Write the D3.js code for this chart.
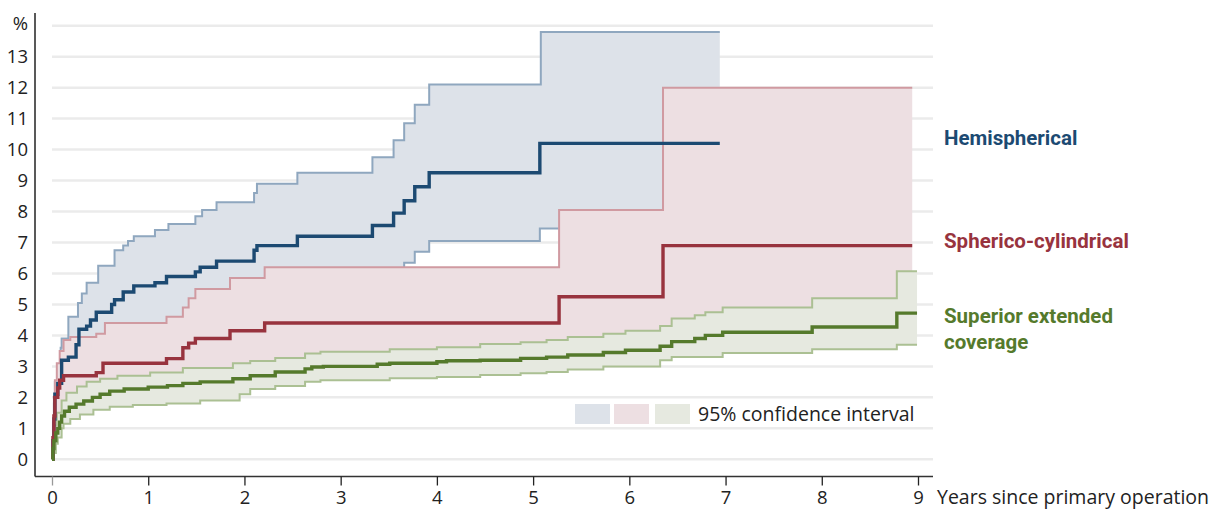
<!DOCTYPE html>
<html>
<head>
<meta charset="utf-8">
<script src="https://cdn.jsdelivr.net/npm/d3@7"></script>
<style>
  body { margin: 0; background: #fff; }
  svg text { font-family: "Open Sans", Roboto, sans-serif; }
  svg text.label { font-family: Roboto, "Open Sans", sans-serif; }
</style>
</head>
<body>
<div id="chart"></div>
<script>
// cumulative revision rate (%) by years since primary operation, step points [year, %]
var xTicks = [0, 1, 2, 3, 4, 5, 6, 7, 8, 9];
var yTicks = [0, 1, 2, 3, 4, 5, 6, 7, 8, 9, 10, 11, 12, 13, 14];
var yUnit = "%";
var xTitle = "Years since primary operation";
var legendText = "95% confidence interval";
var seriesNames = ["Hemispherical", "Spherico-cylindrical", "Superior extended", "coverage"];

var blueMain = [[0,0],[0.01,0.6],[0.02,1.3],[0.03,2.1],[0.06,2.45],[0.1,3.2],[0.17,3.3],[0.25,3.7],[0.28,4.2],[0.36,4.3],[0.4,4.5],[0.46,4.75],[0.62,5.0],[0.65,5.15],[0.74,5.4],[0.85,5.6],[1.07,5.7],[1.19,5.9],[1.49,6.05],[1.54,6.2],[1.71,6.4],[2.1,6.75],[2.13,6.9],[2.55,7.2],[3.33,7.55],[3.55,7.95],[3.66,8.35],[3.77,8.8],[3.92,9.25],[5.07,10.2],[6.94,10.2]];
var blueHi = [[0,0],[0.01,0.8],[0.02,1.8],[0.03,2.5],[0.06,3.0],[0.09,3.6],[0.1,3.9],[0.17,4.6],[0.27,5.05],[0.31,5.35],[0.36,5.7],[0.48,6.25],[0.65,6.75],[0.74,6.9],[0.79,7.05],[0.85,7.2],[1.07,7.4],[1.21,7.6],[1.49,7.85],[1.56,8.05],[1.71,8.3],[2.1,8.6],[2.13,8.9],[2.55,9.25],[3.33,9.75],[3.55,10.3],[3.66,10.85],[3.77,11.45],[3.92,12.1],[5.08,13.8],[6.94,13.8]];
var blueLo = [[0,0],[0.02,0.5],[0.04,1.2],[0.06,1.8],[0.1,2.3],[0.15,2.8],[0.2,3.3],[0.28,3.7],[0.35,3.9],[0.6,4.2],[1.1,4.35],[1.5,5.0],[2.1,5.6],[2.55,5.9],[3.33,6.1],[3.66,6.35],[3.77,6.7],[3.92,7.05],[5.07,7.45],[6.94,7.45]];

var redMain = [[0,0],[0.01,0.7],[0.02,1.4],[0.03,2.0],[0.06,2.3],[0.08,2.55],[0.12,2.7],[0.46,2.8],[0.53,3.1],[1.19,3.25],[1.36,3.6],[1.42,3.75],[1.49,3.9],[1.85,4.15],[2.21,4.4],[5.27,5.25],[6.35,6.9],[8.94,6.9]];
var redHi = [[0,0],[0.01,1.2],[0.02,2.0],[0.03,2.55],[0.05,3.1],[0.08,3.5],[0.12,3.85],[0.19,3.95],[0.46,4.05],[0.55,4.4],[1.19,4.6],[1.36,4.9],[1.42,5.2],[1.49,5.5],[1.85,5.85],[2.21,6.2],[5.27,8.05],[6.35,12.0],[8.94,12.0]];
var redLo = [[0,0],[0.02,0.6],[0.05,1.0],[0.1,1.5],[0.2,1.8],[0.5,2.0],[1.2,2.4],[2.2,2.7],[3.5,3.0],[5.27,3.35],[6.35,3.9],[8.94,3.9]];

var greenMain = [[0,0],[0.01,0.35],[0.02,0.6],[0.04,0.85],[0.06,1.0],[0.08,1.2],[0.1,1.4],[0.13,1.55],[0.18,1.68],[0.25,1.78],[0.33,1.88],[0.42,2.0],[0.5,2.1],[0.6,2.2],[0.75,2.27],[1.0,2.33],[1.2,2.38],[1.36,2.45],[1.54,2.5],[1.88,2.6],[2.06,2.7],[2.32,2.82],[2.63,2.92],[2.7,2.98],[2.82,3.0],[3.38,3.07],[3.51,3.1],[4.0,3.15],[4.1,3.18],[4.45,3.2],[4.87,3.26],[5.14,3.3],[5.36,3.37],[5.73,3.45],[5.96,3.52],[6.32,3.65],[6.44,3.8],[6.68,3.9],[6.79,4.0],[6.97,4.1],[7.9,4.27],[8.78,4.72],[8.99,4.72]];
var greenHi = [[0,0],[0.01,0.7],[0.02,1.1],[0.05,1.5],[0.1,1.9],[0.15,2.15],[0.26,2.35],[0.36,2.5],[0.5,2.6],[0.68,2.7],[1.02,2.8],[1.36,2.95],[1.88,3.1],[2.06,3.17],[2.32,3.27],[2.63,3.42],[2.79,3.47],[3.51,3.55],[4.0,3.62],[4.45,3.72],[4.87,3.78],[5.14,3.85],[5.36,3.95],[5.73,4.05],[5.96,4.15],[6.32,4.3],[6.44,4.55],[6.68,4.65],[6.79,4.75],[6.97,4.9],[7.9,5.2],[8.78,6.07],[8.99,6.07]];
var greenLo = [[0,0],[0.02,0.2],[0.04,0.5],[0.06,0.7],[0.1,1.0],[0.12,1.15],[0.19,1.3],[0.29,1.45],[0.43,1.6],[0.6,1.7],[0.84,1.75],[1.19,1.8],[1.54,1.9],[1.95,2.1],[2.06,2.27],[2.32,2.37],[2.63,2.5],[2.79,2.55],[3.51,2.62],[4.0,2.66],[4.45,2.72],[4.87,2.78],[5.14,2.82],[5.36,2.9],[5.73,3.0],[6.32,3.2],[6.44,3.3],[6.97,3.43],[7.9,3.55],[8.78,3.7],[8.99,3.7]];

var groups = [
  {main: blueMain, hi: blueHi, lo: blueLo, line: "#1c4a72", ci: "#8fa7bf", fill: "#dde2e9"},
  {main: redMain, hi: redHi, lo: redLo, line: "#98333e", ci: "#d09aa1", fill: "#eddfe2"},
  {main: greenMain, hi: greenHi, lo: greenLo, line: "#557a2c", ci: "#abc093", fill: "#e6e9e0"}
];

var svgWidth = 1211, svgHeight = 513;

var svg = d3.select("#chart")
  .append("svg")
  .attr("width", svgWidth)
  .attr("height", svgHeight);

var x = d3.scaleLinear().domain([0, 9]).range([52, 918]);
var y = d3.scaleLinear().domain([0, 14]).range([459.3, 25.7]);

// gridlines
svg.append("g")
  .selectAll("line")
  .data(yTicks)
  .enter()
  .append("line")
  .attr("x1", 52)
  .attr("x2", 933)
  .attr("y1", d => y(d))
  .attr("y2", d => y(d))
  .attr("stroke", "#ebebeb")
  .attr("stroke-width", 2.5);

// value of a step function at time t
function stepAt(arr, t) {
  var v = arr[0][1];
  arr.forEach(function(p) { if (p[0] <= t) v = p[1]; });
  return v;
}

var line = d3.line()
  .x(d => x(d[0]))
  .y(d => y(d[1]))
  .curve(d3.curveStepAfter);

var area = d3.area()
  .x(d => x(d.t))
  .y0(d => y(d.lo))
  .y1(d => y(d.hi))
  .curve(d3.curveStepAfter);

groups.forEach(function(g) {
  var times = Array.from(new Set(g.hi.map(d => d[0]).concat(g.lo.map(d => d[0])))).sort((a, b) => a - b);
  var band = times.map(t => ({t: t, lo: stepAt(g.lo, t), hi: stepAt(g.hi, t)}));
  svg.append("path")
    .datum(band)
    .attr("d", area)
    .attr("fill", g.fill);
  [g.hi, g.lo].forEach(function(b) {
    svg.append("path")
      .datum(b)
      .attr("d", line)
      .attr("fill", "none")
      .attr("stroke", g.ci)
      .attr("stroke-width", 2);
  });
});

groups.forEach(function(g) {
  svg.append("path")
    .datum(g.main)
    .attr("d", line)
    .attr("fill", "none")
    .attr("stroke", g.line)
    .attr("stroke-width", 3.4);
});

// axes lines
svg.append("line")
  .attr("x1", 35).attr("x2", 35)
  .attr("y1", 13).attr("y2", 476.5)
  .attr("stroke", "#222").attr("stroke-width", 1.5);
svg.append("line")
  .attr("x1", 35).attr("x2", 933)
  .attr("y1", 476.5).attr("y2", 476.5)
  .attr("stroke", "#333").attr("stroke-width", 1.3);

var bottomAxis = d3.axisBottom(x).tickValues(xTicks).tickSize(9).tickPadding(5).tickFormat(d3.format("d"));
var xAxisG = svg.append("g")
  .attr("transform", "translate(0,476.5)")
  .call(bottomAxis);
xAxisG.select(".domain").remove();
xAxisG.selectAll(".tick line").attr("stroke", (d, i) => i === 0 ? "#999" : "#222").attr("stroke-width", 1.3);
xAxisG.selectAll(".tick text").attr("fill", "#222").style("font-size", "18.5px");

var leftAxis = d3.axisLeft(y).tickValues(yTicks).tickSize(0).tickPadding(7)
  .tickFormat(d => d === 14 ? yUnit : d);
var yAxisG = svg.append("g")
  .attr("transform", "translate(35,0)")
  .call(leftAxis);
yAxisG.select(".domain").remove();
yAxisG.selectAll(".tick text").attr("fill", "#222").style("font-size", "18.5px")
  .attr("dy", d => d === 14 ? "0.22em" : "0.34em");

svg.append("text")
  .attr("x", 937)
  .attr("y", 504)
  .attr("fill", "#222")
  .style("font-size", "19.5px")
  .text(xTitle);

// legend
var legendX = [575, 614, 655];
svg.append("g")
  .selectAll("rect")
  .data(groups)
  .enter()
  .append("rect")
  .attr("x", (d, i) => legendX[i])
  .attr("y", 404)
  .attr("width", 35)
  .attr("height", 20)
  .attr("fill", d => d.fill);
svg.append("text")
  .attr("x", 698)
  .attr("y", 421)
  .attr("fill", "#222")
  .style("font-size", "19.5px")
  .text(legendText);

// series labels
var labelPos = [[944, 145, 0], [944, 248, 1], [944, 323, 2], [944, 349, 2]];
seriesNames.forEach(function(name, i) {
  svg.append("text")
    .attr("class", "label")
    .attr("x", labelPos[i][0])
    .attr("y", labelPos[i][1])
    .attr("fill", groups[labelPos[i][2]].line)
    .style("font-size", "20.5px")
    .style("font-weight", "bold")
    .text(name);
});
</script>
</body>
</html>
